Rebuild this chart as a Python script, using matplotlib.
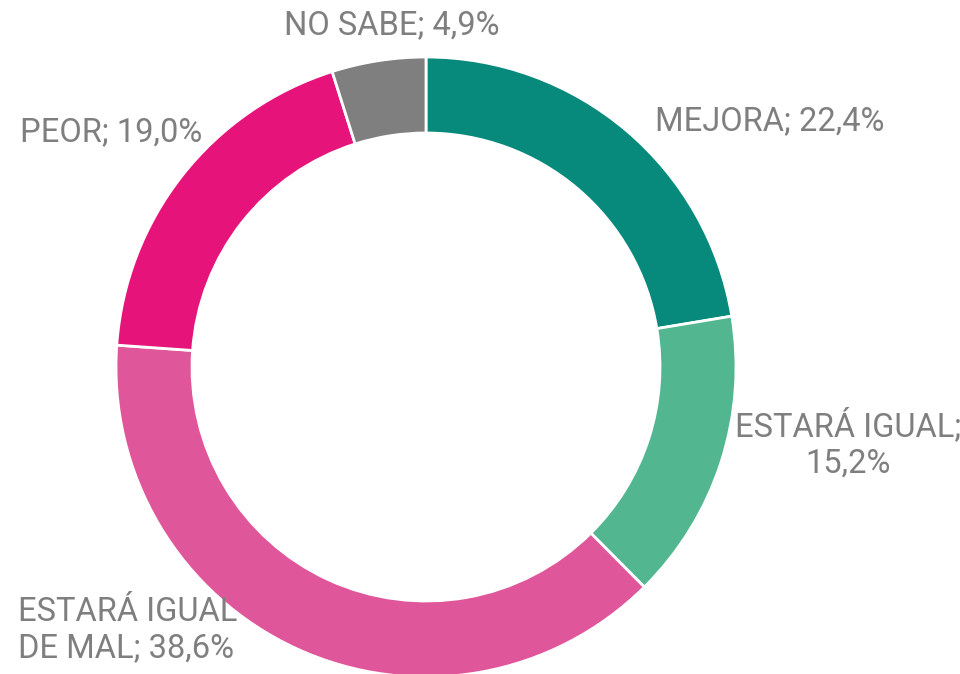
import matplotlib
matplotlib.use("Agg")
import matplotlib.pyplot as plt

categories = ["MEJORA", "ESTARÁ IGUAL", "ESTARÁ IGUAL DE MAL", "PEOR", "NO SABE"]
values = [22.4, 15.2, 38.6, 19.0, 4.9]
labels = ["MEJORA; 22,4%", "ESTARÁ IGUAL;\n15,2%", "ESTARÁ IGUAL\nDE MAL; 38,6%", "PEOR; 19,0%", "NO SABE; 4,9%"]
colors = ["#078A7B", "#52B791", "#E0569A", "#E6147A", "#7F7F7F"]

fig = plt.figure(figsize=(9.6, 6.74), dpi=100)
ax = fig.add_axes([0, 0, 1, 1])

cx, cy, r = 426, 674 - 367, 310
ax.pie(values, colors=colors, startangle=90, counterclock=False,
       center=(cx, cy), radius=r, frame=True,
       wedgeprops=dict(width=76, edgecolor="white", linewidth=2))
ax.set_xlim(0, 960)
ax.set_ylim(0, 674)
ax.set_aspect("equal")
ax.axis("off")

tc = "#7F7F7F"
fs = 23.5
fam = ["Roboto", "DejaVu Sans"]
pos = [(770, 674 - 121, "center"), (848, 674 - 444, "center"), (18, 674 - 630, "left"),
       (20, 674 - 132, "left"), (392, 674 - 25, "center")]
for lab, (x, y, ha) in zip(labels, pos):
    ax.text(x, y, lab, ha=ha, va="center", fontsize=fs, color=tc, family=fam,
            linespacing=1.15, multialignment="center" if ha == "center" else "left")

fig.savefig("out.png", dpi=100)
